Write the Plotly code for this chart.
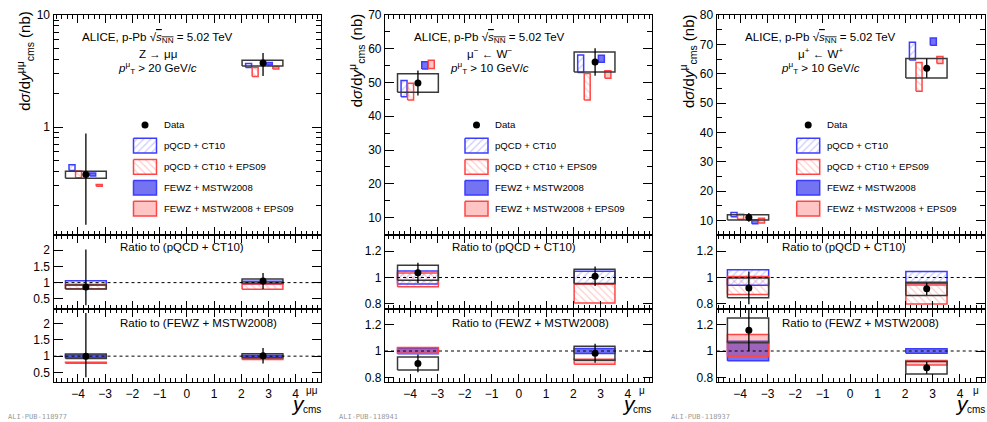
import math
import plotly.graph_objects as go

W, H = 987, 422

# ---------------- data ----------------
# rapidity bins: backward, forward
bin_lo = [-4.46, 2.03]
bin_hi = [-2.96, 3.53]

# Z -> mu mu, dsigma/dy (nb)
z_y = [-3.71, 2.80]
z_data = [0.377, 3.73]
z_stat_up = [0.500, 0.87]
z_stat_dn = [0.243, 0.87]
z_syst = [0.027, 0.225]
z_ct10_lo = [0.410, 3.41]
z_ct10_hi = [0.460, 3.70]
z_eps_lo = [0.353, 2.83]
z_eps_hi = [0.405, 3.41]
z_fewz_lo = [0.366, 3.58]
z_fewz_hi = [0.390, 3.78]
z_feps_lo = [0.297, 3.30]
z_feps_hi = [0.307, 3.46]

# mu- <- W-, dsigma/dy (nb)
wm_y = [-3.71, 2.80]
wm_data = [49.9, 56.1]
wm_stat_up = [3.7, 4.1]
wm_stat_dn = [3.7, 4.1]
wm_syst = [2.75, 3.0]
wm_ct10_lo = [45.8, 53.0]
wm_ct10_hi = [50.6, 58.2]
wm_eps_lo = [44.8, 44.8]
wm_eps_hi = [49.8, 52.7]
wm_fewz_lo = [54.0, 56.0]
wm_fewz_hi = [56.2, 58.1]
wm_feps_lo = [54.2, 51.3]
wm_feps_hi = [56.6, 53.5]

# mu+ <- W+, dsigma/dy (nb)
wp_y = [-3.68, 2.79]
wp_data = [11.1, 61.9]
wp_stat_up = [1.5, 3.2]
wp_stat_dn = [1.5, 3.2]
wp_syst = [0.9, 3.35]
wp_ct10_lo = [11.35, 64.7]
wp_ct10_hi = [12.75, 70.8]
wp_eps_lo = [10.5, 54.1]
wp_eps_hi = [12.15, 63.9]
wp_fewz_lo = [8.9, 69.7]
wp_fewz_hi = [10.3, 72.2]
wp_feps_lo = [9.2, 63.5]
wp_feps_hi = [10.8, 65.9]

legend_labels = ["pQCD + CT10", "pQCD + CT10 + EPS09", "FEWZ + MSTW2008", "FEWZ + MSTW2008 + EPS09"]
ratio_titles = ["Ratio to (pQCD + CT10)", "Ratio to (FEWZ + MSTW2008)"]
x_ticks = [-4, -3, -2, -1, 0, 1, 2, 3, 4]

SQRTS = "ALICE, p-Pb √<span style='text-decoration:overline'><i>s</i><sub>NN</sub></span> = 5.02 TeV"

panels = [
    dict(y=z_y, data=z_data, up=z_stat_up, dn=z_stat_dn, syst=z_syst,
         ct10=(z_ct10_lo, z_ct10_hi), eps=(z_eps_lo, z_eps_hi),
         fewz=(z_fewz_lo, z_fewz_hi), feps=(z_feps_lo, z_feps_hi),
         lines=[SQRTS, "Z → μμ", "<i>p</i><sup>μ</sup><sub>T</sub> > 20 GeV/<i>c</i>"],
         ytitle="d<i>σ</i>/d<i>y</i><sup>μμ</sup><sub>cms</sub> (nb)",
         xsup="μμ", tag="ALI-PUB-118977"),
    dict(y=wm_y, data=wm_data, up=wm_stat_up, dn=wm_stat_dn, syst=wm_syst,
         ct10=(wm_ct10_lo, wm_ct10_hi), eps=(wm_eps_lo, wm_eps_hi),
         fewz=(wm_fewz_lo, wm_fewz_hi), feps=(wm_feps_lo, wm_feps_hi),
         lines=[SQRTS, "μ<sup>−</sup> ← W<sup>−</sup>", "<i>p</i><sup>μ</sup><sub>T</sub> > 10 GeV/<i>c</i>"],
         ytitle="d<i>σ</i>/d<i>y</i><sup>μ</sup><sub>cms</sub> (nb)",
         xsup="μ", tag="ALI-PUB-118941"),
    dict(y=wp_y, data=wp_data, up=wp_stat_up, dn=wp_stat_dn, syst=wp_syst,
         ct10=(wp_ct10_lo, wp_ct10_hi), eps=(wp_eps_lo, wp_eps_hi),
         fewz=(wp_fewz_lo, wp_fewz_hi), feps=(wp_feps_lo, wp_feps_hi),
         lines=[SQRTS, "μ<sup>+</sup> ← W<sup>+</sup>", "<i>p</i><sup>μ</sup><sub>T</sub> > 10 GeV/<i>c</i>"],
         ytitle="d<i>σ</i>/d<i>y</i><sup>μ</sup><sub>cms</sub> (nb)",
         xsup="μ", tag="ALI-PUB-118937"),
]

# ---------------- layout geometry (pixels) ----------------
panel_px = [(53.5, 321.0), (385.0, 651.7), (716.7, 985.0)]
row_px = [(8.3, 233.3), (233.3, 308.3), (308.3, 383.5)]
x_ranges = [(-4.90, 4.93), (-4.92, 4.88), (-4.85, 4.91)]
top_y_cfg = [
    dict(type="log", range=[math.log10(0.108), 1.0], tickvals=[1, 10], ticktext=["1", "10"],
         minor=[0.2, 0.3, 0.4, 0.5, 0.6, 0.7, 0.8, 0.9, 2, 3, 4, 5, 6, 7, 8, 9]),
    dict(type="linear", range=[4.7, 70], dtick=10, mdtick=5),
    dict(type="linear", range=[5.0, 80], dtick=10, mdtick=5),
]
ratio_y_cfg = [
    dict(range=[0.2, 2.45], dtick=0.5),
    dict(range=[0.763, 1.32], dtick=0.2),
    dict(range=[0.763, 1.32], dtick=0.2),
]
model_offsets = [0.13, 0.37, 0.89, 1.13]  # box starts within a bin, top panel
model_width = 0.22

BLUE = "rgb(60,60,255)"
RED = "rgb(255,70,70)"
FEWZ_FILL = "rgba(30,30,235,0.62)"
FEPS_FILL = "rgba(255,60,60,0.30)"
DATA_LINE = "#3a3a3a"
FONT = "Liberation Sans, Arial, Helvetica, sans-serif"


def pat(shape, rgb):
    return dict(shape=shape, fgcolor=f"rgba({rgb},0.55)", bgcolor="rgba(255,255,255,0)",
                size=5, solidity=0.25)


STYLE = {
    "ct10": dict(line=dict(color=BLUE, width=1.5), fillcolor="rgba(0,0,0,0)", fillpattern=pat("/", "70,70,255")),
    "eps": dict(line=dict(color=RED, width=1.5), fillcolor="rgba(0,0,0,0)", fillpattern=pat("\\", "255,70,70")),
    "fewz": dict(line=dict(color=BLUE, width=1.5), fillcolor=FEWZ_FILL),
    "feps": dict(line=dict(color=RED, width=1.5), fillcolor=FEPS_FILL),
    "data": dict(line=dict(color=DATA_LINE, width=1.5)),
}


def box_trace(x0s, x1s, y0s, y1s, xa, ya, kind):
    xs, ys = [], []
    for a, b, c, d in zip(x0s, x1s, y0s, y1s):
        xs += [a, b, b, a, a, None]
        ys += [c, c, d, d, c, None]
    kw = dict(x=xs, y=ys, xaxis=xa, yaxis=ya, mode="lines", hoverinfo="skip", showlegend=False)
    if kind != "data":
        kw["fill"] = "toself"
    kw.update(STYLE[kind])
    return go.Scatter(**kw)


def point_trace(xs, ys, up, dn, xa, ya):
    return go.Scatter(x=xs, y=ys, xaxis=xa, yaxis=ya, mode="markers", showlegend=False,
                      hoverinfo="skip", marker=dict(color="black", size=7),
                      error_y=dict(type="data", symmetric=False, array=up, arrayminus=dn,
                                   color="black", thickness=1.3, width=0))


def ax_ref(prefix, idx):
    return prefix if idx == 1 else f"{prefix}{idx}"


fig = go.Figure()
layout = dict(width=W, height=H, margin=dict(l=0, r=0, t=0, b=0),
              paper_bgcolor="white", plot_bgcolor="rgba(0,0,0,0)", showlegend=False,
              font=dict(family=FONT, color="black"))
annotations = []
shapes = []

tick_font = dict(family=FONT, size=12, color="black")
axis_common = dict(showline=True, linecolor="black", linewidth=1.2, mirror="allticks",
                   ticks="inside", tickwidth=1, tickcolor="black", showgrid=False,
                   zeroline=False, tickfont=tick_font, fixedrange=True)


def ydom(r):
    a, b = row_px[r]
    return [1 - b / H, 1 - a / H]


for p, P in enumerate(panels):
    L, R = panel_px[p]
    xdom = [L / W, R / W]
    for r in range(3):
        idx = p * 3 + r + 1
        xa, ya = ax_ref("x", idx), ax_ref("y", idx)
        xname = "xaxis" if idx == 1 else f"xaxis{idx}"
        yname = "yaxis" if idx == 1 else f"yaxis{idx}"
        layout[xname] = dict(axis_common, domain=xdom, range=list(x_ranges[p]), anchor=ya,
                             tickmode="array", tickvals=x_ticks, ticklen=8,
                             showticklabels=(r == 2),
                             minor=dict(ticks="inside", ticklen=4, tickcolor="black",
                                        tickwidth=1, dtick=0.2, tick0=0))
        if r == 0:
            c = top_y_cfg[p]
            if c["type"] == "log":
                layout[yname] = dict(axis_common, domain=ydom(r), type="log", range=c["range"],
                                     anchor=xa, tickmode="array", tickvals=c["tickvals"],
                                     ticktext=c["ticktext"], ticklen=9,
                                     minor=dict(ticks="inside", ticklen=5, tickcolor="black",
                                                tickwidth=1, tickmode="array", tickvals=c["minor"]))
            else:
                layout[yname] = dict(axis_common, domain=ydom(r), range=c["range"], anchor=xa,
                                     tickmode="linear", tick0=0, dtick=c["dtick"], ticklen=9,
                                     minor=dict(ticks="inside", ticklen=5, tickcolor="black",
                                                tickwidth=1, dtick=c["mdtick"], tick0=0))
        else:
            c = ratio_y_cfg[p]
            layout[yname] = dict(axis_common, domain=ydom(r), range=c["range"], anchor=xa,
                                 tickmode="linear", tick0=0, dtick=c["dtick"], ticklen=9)

    # ---- top panel: cross sections ----
    xa, ya = ax_ref("x", p * 3 + 1), ax_ref("y", p * 3 + 1)
    d, s = P["data"], P["syst"]
    for k, kind in enumerate(["ct10", "eps", "fewz", "feps"]):
        lo, hi = P[kind]
        x0 = [bin_lo[i] + model_offsets[k] for i in range(2)]
        x1 = [v + model_width for v in x0]
        fig.add_trace(box_trace(x0, x1, lo, hi, xa, ya, kind))
    fig.add_trace(box_trace(bin_lo, bin_hi, [d[i] - s[i] for i in range(2)],
                            [d[i] + s[i] for i in range(2)], xa, ya, "data"))
    fig.add_trace(point_trace(P["y"], d, P["up"], P["dn"], xa, ya))

    # ---- ratio panels ----
    for r, (ref, other) in enumerate([("ct10", "eps"), ("fewz", "feps")], start=1):
        idx = p * 3 + r + 1
        xa, ya = ax_ref("x", idx), ax_ref("y", idx)
        rlo, rhi = P[ref]
        cen = [(rlo[i] + rhi[i]) / 2 for i in range(2)]
        olo, ohi = P[other]
        fig.add_trace(box_trace(bin_lo, bin_hi, [rlo[i] / cen[i] for i in range(2)],
                                [rhi[i] / cen[i] for i in range(2)], xa, ya, ref))
        fig.add_trace(box_trace(bin_lo, bin_hi, [olo[i] / cen[i] for i in range(2)],
                                [ohi[i] / cen[i] for i in range(2)], xa, ya, other))
        fig.add_trace(box_trace(bin_lo, bin_hi, [(d[i] - s[i]) / cen[i] for i in range(2)],
                                [(d[i] + s[i]) / cen[i] for i in range(2)], xa, ya, "data"))
        fig.add_trace(point_trace(P["y"], [d[i] / cen[i] for i in range(2)],
                                  [P["up"][i] / cen[i] for i in range(2)],
                                  [P["dn"][i] / cen[i] for i in range(2)], xa, ya))
        shapes.append(dict(type="line", xref=f"{xa} domain", yref=ya, x0=0, x1=1, y0=1, y1=1,
                           line=dict(color="black", width=1, dash="dot"), layer="above"))
        annotations.append(dict(xref=xa, yref="y10", x=-2.53, y=[245, 323.3][r - 1],
                                text=ratio_titles[r - 1], showarrow=False, xanchor="left",
                                yanchor="middle", font=dict(family=FONT, size=11.5)))

    # ---- legend (pixel overlay) ----
    rows = [141.7, 163.3, 184.7, 206.0]
    for k, kind in enumerate(["ct10", "eps", "fewz", "feps"]):
        fig.add_trace(box_trace([L + 80], [L + 103], [rows[k] - 7.5], [rows[k] + 7.5], "x10", "y10", kind))
        annotations.append(dict(xref="x10", yref="y10", x=L + 108, y=rows[k], text=legend_labels[k],
                                showarrow=False, xanchor="left", yanchor="middle",
                                font=dict(family=FONT, size=9.6)))
    fig.add_trace(go.Scatter(x=[L + 91.5], y=[120.5], xaxis="x10", yaxis="y10", mode="markers",
                             marker=dict(color="black", size=7), showlegend=False, hoverinfo="skip"))
    annotations.append(dict(xref="x10", yref="y10", x=L + 108, y=120.5, text="Data", showarrow=False,
                            xanchor="left", yanchor="middle", font=dict(family=FONT, size=9.6)))

    # ---- header text ----
    for t, yy in zip(P["lines"], [31.5, 47.5, 62.0]):
        annotations.append(dict(xref="x10", yref="y10", x=L + 104, y=yy, text=t, showarrow=False,
                                xanchor="center", yanchor="middle", font=dict(family=FONT, size=11.6)))

    # ---- axis titles ----
    annotations.append(dict(xref="x10", yref="y10", x=L - 28.5, y=55, text=P["ytitle"], textangle=-90,
                            showarrow=False, xanchor="center", yanchor="middle",
                            font=dict(family=FONT, size=15)))
    annotations.append(dict(xref="x10", yref="y10", x=R - 23, y=405, text="<i>y</i>", showarrow=False,
                            xanchor="center", yanchor="middle", font=dict(family=FONT, size=21)))
    annotations.append(dict(xref="x10", yref="y10", x=R - 9.5, y=392, text=P["xsup"], showarrow=False,
                            xanchor="center", yanchor="middle", font=dict(family=FONT, size=10)))
    annotations.append(dict(xref="x10", yref="y10", x=R - 9.5, y=411, text="cms", showarrow=False,
                            xanchor="center", yanchor="middle", font=dict(family=FONT, size=10)))
    annotations.append(dict(xref="x10", yref="y10", x=L - 48, y=419, text=P["tag"], showarrow=False,
                            xanchor="left", yanchor="middle",
                            font=dict(family="DejaVu Sans Mono, monospace", size=7, color="#9a9a9a")))

# pixel-space overlay used for legend and labels
layout["xaxis10"] = dict(domain=[0, 1], range=[0, W], visible=False, fixedrange=True, anchor="y10")
layout["yaxis10"] = dict(domain=[0, 1], range=[H, 0], visible=False, fixedrange=True, anchor="x10")
layout["annotations"] = annotations
layout["shapes"] = shapes
fig.update_layout(**layout)
fig.write_html("out.html")
